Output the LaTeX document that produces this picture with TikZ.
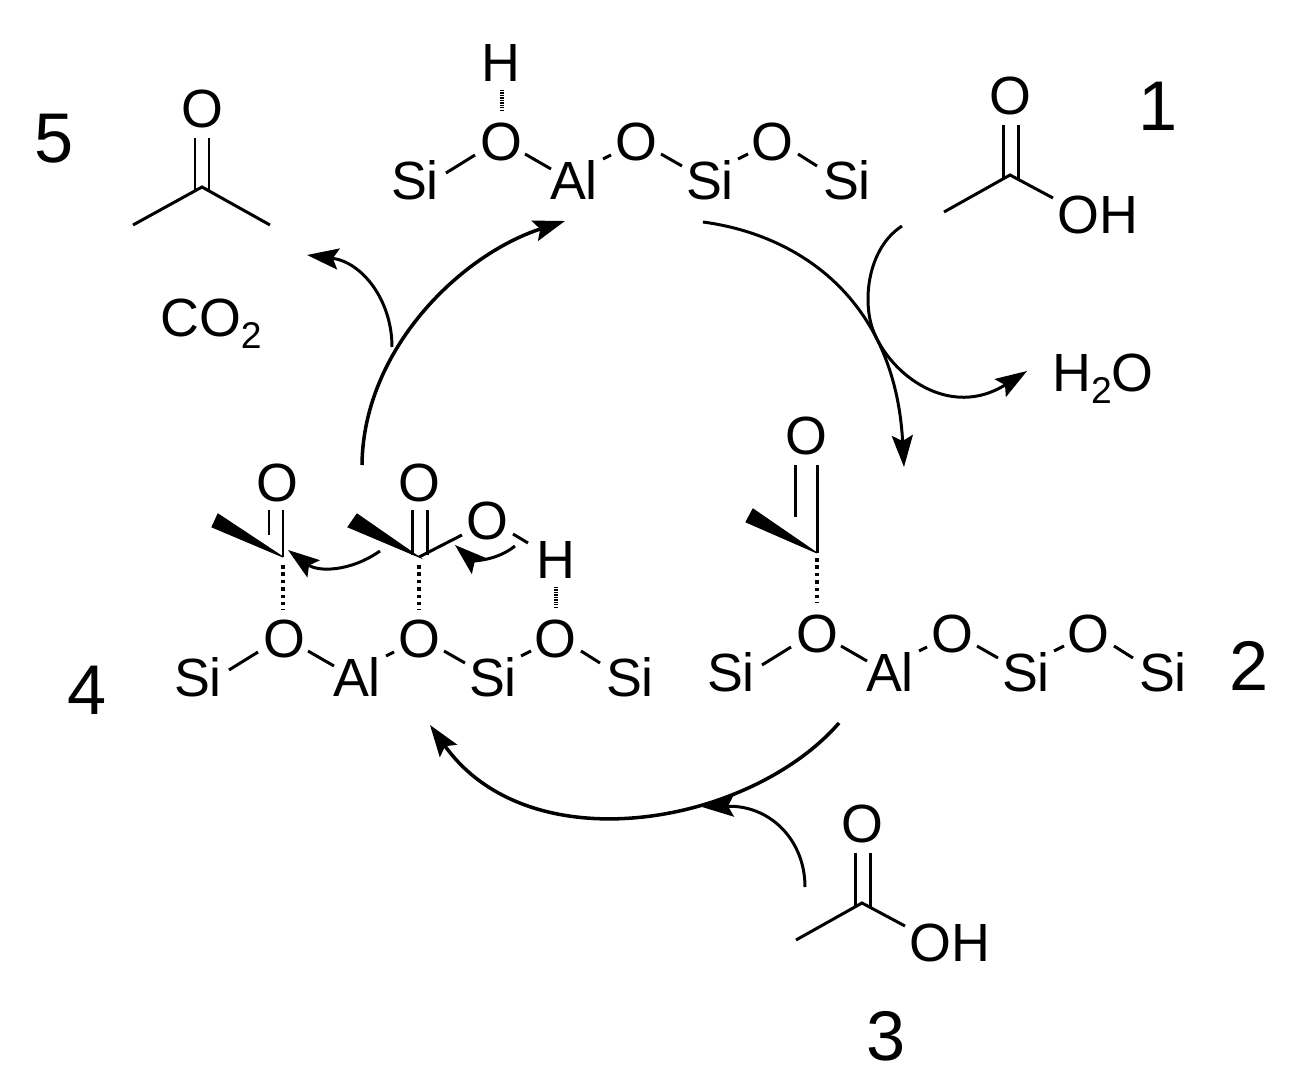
\documentclass[tikz,border=0pt]{standalone}
\usepackage{fontspec}
\setmainfont{Liberation Sans}
\usetikzlibrary{calc}
\usetikzlibrary{arrows.meta,positioning}
\tikzset{
  atom/.style={inner sep=0pt,font=\fontsize{15.3}{18}\selectfont,text height=11pt,text depth=0pt},
  numlabel/.style={inner sep=0pt,font=\fontsize{20}{24}\selectfont,text height=14.3pt,text depth=0pt},
  bond/.style={line width=0.85pt},
  hashbond/.style={line width=1.4pt,dash pattern=on 1pt off 1.1pt},
  hbond/.style={line width=1.1pt,dash pattern=on 0.35pt off 0.35pt},
  wedge/.style={fill=black,draw=black,line width=0.3pt},
  flow/.style={line width=0.85pt,-{Stealth[length=9pt,width=6pt,inset=1.6pt]}},
  mainflow/.style={line width=1pt,-{Stealth[length=9pt,width=6pt,inset=1.6pt]}},
}
\newcommand{\subtwo}{\raisebox{-3.4pt}{\fontsize{10.6}{12}\selectfont 2}}
% framework fragment, #1 = name prefix, (#2,#3) = first Si
\newcommand{\sichain}[3]{
  \node[atom] (#1si1) at (#2,#3) {Si};
  \node[atom] (#1o1) at (#2+86,#3-39) {O};
  \node[atom] (#1al) at (#2+159,#3) {Al};
  \node[atom] (#1o2) at (#2+221,#3-39) {O};
  \node[atom] (#1si2) at (#2+295,#3) {Si};
  \node[atom] (#1o3) at (#2+357,#3-39) {O};
  \node[atom] (#1si3) at (#2+432,#3) {Si};
  \draw[bond] ($(#1si1)+(31,-7)$) -- ($(#1o1)+(-26,14)$);
  \draw[bond] ($(#1o1)+(24,13)$) -- ($(#1al)+(-23,-11)$);
  \draw[bond] ($(#1al)+(29,-21)$) -- ($(#1o2)+(-25,14)$);
  \draw[bond] ($(#1o2)+(25,13)$) -- ($(#1si2)+(-28,-14)$);
  \draw[bond] ($(#1si2)+(28,-21)$) -- ($(#1o3)+(-24,13)$);
  \draw[bond] ($(#1o3)+(26,13)$) -- ($(#1si3)+(-30,-14)$);
}
% free acid, #1 = name prefix, (#2,#3) = carbonyl O
\newcommand{\acid}[3]{
  \node[atom] (#1o) at (#2,#3) {O};
  \coordinate (#1c) at (#2,#3+80);
  \coordinate (#1me) at (#2-66,#3+117);
  \node[atom] (#1oh) at (#2+88,#3+119) {OH};
  \draw[bond] ($(#1o)+(-7,30)$) -- ($(#1c)+(-7,4)$);
  \draw[bond] ($(#1o)+(8,30)$) -- ($(#1c)+(8,4)$);
  \draw[bond] (#1me) -- (#1c) -- ($(#1oh)+(-45,-16)$);
}
\begin{document}
\begin{tikzpicture}[x=0.01cm,y=-0.01cm]
  \useasboundingbox (0,0) rectangle (1306,1091);

  \sichain{a}{415}{180}
  \sichain{b}{731}{672}
  \sichain{c}{198}{677}

  % top O-H
  \node[atom] (ah) at (501,62) {H};
  \draw[hbond] ($(ah)+(1,28)$) -- ($(ao1)+(1,-29)$);

  % acyl on the right fragment
  \node[atom] (bco) at (806,435) {O};
  \coordinate (bc) at (817,553);
  \coordinate (bme1) at (753,509);
  \coordinate (bme2) at (746,522);
  \fill[wedge] (bc) -- (bme1) -- (bme2) -- cycle;
  \draw[bond] ($(bco)+(-11,30)$) -- ($(bc)+(-22,-36)$);
  \draw[bond] ($(bco)+(11,30)$) -- (bc);
  \draw[hashbond] ($(bc)+(0,5)$) -- ($(bo1)+(0,-30)$);

  % two acyls on the left fragment
  \node[atom] (cco1) at (277,482) {O};
  \coordinate (cc1) at (283,557);
  \coordinate (cme1a) at (218,514);
  \coordinate (cme1b) at (212,527);
  \fill[wedge] (cc1) -- (cme1a) -- (cme1b) -- cycle;
  \draw[bond] ($(cco1)+(-8,28)$) -- ($(cc1)+(-14,-22)$);
  \draw[bond] ($(cco1)+(6,28)$) -- (cc1);
  \draw[hashbond] ($(cc1)+(0,8)$) -- ($(co1)+(-1,-28)$);

  \node[atom] (cco2) at (419,482) {O};
  \coordinate (cc2) at (419,557);
  \coordinate (cme2a) at (357,514);
  \coordinate (cme2b) at (348,527);
  \fill[wedge] (cc2) -- (cme2a) -- (cme2b) -- cycle;
  \draw[bond] ($(cco2)+(-7,28)$) -- ($(cc2)+(-7,-2)$);
  \draw[bond] ($(cco2)+(8,28)$) -- ($(cc2)+(8,-2)$);
  \draw[hashbond] ($(cc2)+(0,8)$) -- ($(co2)+(0,-28)$);

  \node[atom] (coh) at (487,520) {O};
  \node[atom] (ch) at (556,559) {H};
  \draw[bond] (cc2) -- ($(coh)+(-25,15)$);
  \draw[bond] ($(coh)+(26,14)$) -- ($(ch)+(-28,-16)$);
  \draw[hbond] ($(ch)+(0,28)$) -- ($(co3)+(1,-30)$);

  \acid{d}{1010}{95}
  \acid{e}{862}{823}

  % acetone
  \node[atom] (fo) at (202,108) {O};
  \coordinate (fc) at (202,187);
  \coordinate (fme1) at (133,225);
  \coordinate (fme2) at (270,225);
  \draw[bond] ($(fo)+(-7,30)$) -- ($(fc)+(-7,4)$);
  \draw[bond] ($(fo)+(7,30)$) -- ($(fc)+(7,4)$);
  \draw[bond] (fme1) -- (fc) -- (fme2);

  \node[atom] (co2) at (211,317) {CO\subtwo};
  \node[atom] (water) at (1103,372) {H\subtwo O};

  \node[numlabel] (n1) at (1158,105) {1};
  \node[numlabel] (n2) at (1249,665) {2};
  \node[numlabel] (n3) at (886,1035) {3};
  \node[numlabel] (n4) at (87,689) {4};
  \node[numlabel] (n5) at (54,137) {5};

  % cycle
  \coordinate (s1) at (362,465);
  \coordinate (t1) at (565,221);
  \coordinate (s2) at (703,222);
  \coordinate (t2) at (904,467);
  \coordinate (s3) at (839,723);
  \coordinate (t3) at (430,725);
  \draw[mainflow] (s1) .. controls (363,350) and (460,255) .. (t1);
  \draw[flow] (s2) .. controls (800,235) and (895,300) .. (t2);
  \draw[mainflow] (s3) .. controls (750,825) and (530,865) .. (t3);

  % side arrows
  \coordinate (s4) at (805,887);
  \coordinate (t4) at (702,807);
  \coordinate (s5) at (902,226);
  \coordinate (m5) at (873,330);
  \coordinate (t5) at (1027,371);
  \coordinate (s6) at (392,347);
  \coordinate (t6) at (307,255);
  \draw[flow] (s4) .. controls (805,840) and (770,805) .. (t4);
  \draw[flow] (s5) .. controls (868,248) and (862,300) .. (m5) .. controls (890,375) and (950,420) .. (t5);
  \draw[flow] (s6) .. controls (392,300) and (362,262) .. (t6);

  % electron pushing
  \coordinate (s7) at (380,551);
  \coordinate (t7) at (288,550);
  \coordinate (s8) at (515,546);
  \coordinate (t8) at (455,545);
  \draw[flow] (s7) .. controls (350,572) and (318,572) .. (t7);
  \draw[flow] (s8) .. controls (495,562) and (472,560) .. (t8);
\end{tikzpicture}
\end{document}
